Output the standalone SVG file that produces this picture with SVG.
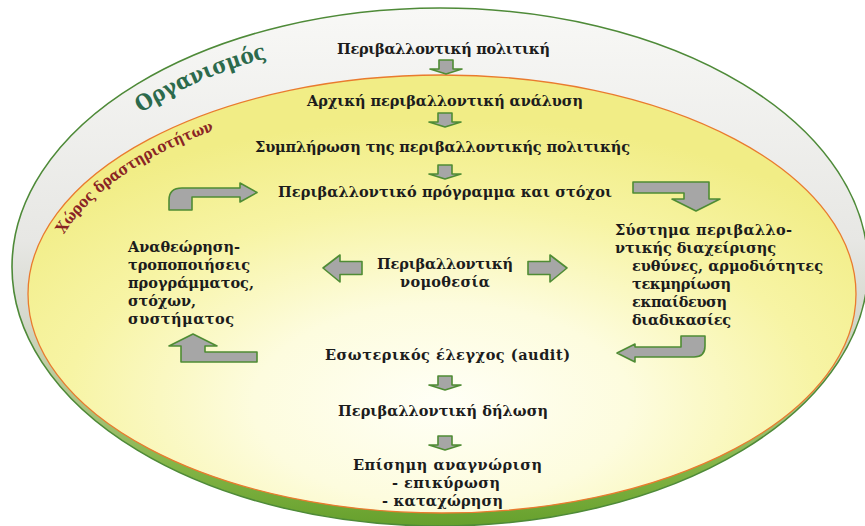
<svg xmlns="http://www.w3.org/2000/svg" xmlns:xlink="http://www.w3.org/1999/xlink" width="865" height="526" viewBox="0 0 865 526">
  <style>
    .t { font-family: "DejaVu Serif", "Liberation Serif", serif; font-weight: bold; font-size: 14.5px; fill: #1c1c1c; }
    .c { text-anchor: middle; }
    .arrow { fill: #a6a6a6; stroke: #4f8c34; stroke-width: 1.6; stroke-linejoin: round; }
  </style>
  <defs>
    <linearGradient id="outerFill" gradientUnits="userSpaceOnUse" x1="0" y1="8" x2="0" y2="526">
      <stop offset="0" stop-color="#f8f8f6"/>
      <stop offset="0.45" stop-color="#e7e7e4"/>
      <stop offset="0.6" stop-color="#d5d8cd"/>
      <stop offset="0.75" stop-color="#b0c68a"/>
      <stop offset="0.88" stop-color="#84b547"/>
      <stop offset="1" stop-color="#66a02c"/>
    </linearGradient>
    <radialGradient id="innerFill" cx="0.5" cy="0.75" r="0.65">
      <stop offset="0" stop-color="#fffff6"/>
      <stop offset="0.35" stop-color="#fdfcde"/>
      <stop offset="0.7" stop-color="#f7f4a4"/>
      <stop offset="1" stop-color="#f1ed86"/>
    </radialGradient>
    <path id="down" d="M-7,0 H7 V9 H16 L0,14 L-16,9 H-7 Z"/>
    <path id="orgPath" d="M40,267 A400,232 0 0,1 440,35"/>
    <path id="spacePath" d="M46,294 A396,200 0 0,1 442,94"/>
  </defs>

  <g id="organisation">
    <ellipse cx="440" cy="267" rx="428" ry="259" fill="url(#outerFill)" stroke="#4e8a38" stroke-width="1.6"/>
    <text font-family="DejaVu Serif, Liberation Serif, serif" font-weight="bold" font-size="22" fill="#2c6a4c"><textPath xlink:href="#orgPath" href="#orgPath" startOffset="192" textLength="138" lengthAdjust="spacingAndGlyphs">Οργανισμός</textPath></text>
  </g>

  <g id="activity-space">
    <ellipse cx="442" cy="294" rx="414" ry="219" fill="url(#innerFill)" stroke="#e97b2e" stroke-width="1.3"/>
    <text font-family="DejaVu Serif, Liberation Serif, serif" font-weight="bold" font-size="15.5" fill="#8a2424"><textPath xlink:href="#spacePath" href="#spacePath" startOffset="63" textLength="186" lengthAdjust="spacingAndGlyphs">Χώρος δραστηριοτήτων</textPath></text>
  </g>

  <g id="policy"><text class="t c" x="443.5" y="54" textLength="213">Περιβαλλοντική πολιτική</text></g>
  <g id="initial-analysis"><text class="t c" x="445" y="106" textLength="276">Αρχική περιβαλλοντική ανάλυση</text></g>
  <g id="policy-completion"><text class="t c" x="442.5" y="152" textLength="375">Συμπλήρωση της περιβαλλοντικής πολιτικής</text></g>
  <g id="programme"><text class="t c" x="445" y="197" textLength="334">Περιβαλλοντικό πρόγραμμα και στόχοι</text></g>

  <g id="management-system">
    <text class="t" x="615" y="235" textLength="177">Σύστημα περιβαλλο-</text>
    <text class="t" x="615" y="253" textLength="161">ντικής διαχείρισης</text>
    <text class="t" x="632" y="271" textLength="191">ευθύνες, αρμοδιότητες</text>
    <text class="t" x="632" y="289" textLength="99">τεκμηρίωση</text>
    <text class="t" x="632" y="307" textLength="95">εκπαίδευση</text>
    <text class="t" x="632" y="325" textLength="99">διαδικασίες</text>
  </g>

  <g id="legislation">
    <text class="t c" x="445" y="269" textLength="136">Περιβαλλοντική</text>
    <text class="t c" x="445" y="287" textLength="90">νομοθεσία</text>
  </g>

  <g id="review">
    <text class="t" x="128" y="252" textLength="112">Αναθεώρηση-</text>
    <text class="t" x="128" y="270" textLength="122">τροποποιήσεις</text>
    <text class="t" x="128" y="288" textLength="126">προγράμματος,</text>
    <text class="t" x="128" y="306" textLength="68">στόχων,</text>
    <text class="t" x="128" y="324" textLength="106">συστήματος</text>
  </g>

  <g id="audit"><text class="t c" x="447.5" y="360" textLength="245">Εσωτερικός έλεγχος (audit)</text></g>
  <g id="statement"><text class="t c" x="443" y="416" textLength="210">Περιβαλλοντική δήλωση</text></g>
  <g id="recognition">
    <text class="t c" x="447.5" y="470" textLength="189">Επίσημη αναγνώριση</text>
    <text class="t c" x="446" y="488" textLength="108">- επικύρωση</text>
    <text class="t c" x="442.5" y="506" textLength="121">- καταχώρηση</text>
  </g>

  <g id="connectors">
    <use href="#down" xlink:href="#down" class="arrow" x="446" y="60"/>
    <use href="#down" xlink:href="#down" class="arrow" x="445" y="113"/>
    <use href="#down" xlink:href="#down" class="arrow" x="445" y="165"/>
    <use href="#down" xlink:href="#down" class="arrow" x="445" y="376"/>
    <use href="#down" xlink:href="#down" class="arrow" x="445" y="436"/>
    <path class="arrow" d="M633,182 H709 V199 H720 L696,211 L672,199 H684 V193 H633 Z"/>
    <path class="arrow" d="M681,336 H705 V346 Q705,357 694,357 H635 V362 L617,353 L635,344 V347 H681 Z"/>
    <path class="arrow" d="M181,362 V346 H169 L193,334 L217,346 H205 V352 H257 V362 Z"/>
    <path class="arrow" d="M169,210 V200 Q169,188 182,188 H240 V183 L257,192.5 L240,202 V197 H192 V210 Z"/>
    <path class="arrow" d="M323,268 L340,255 V261.5 H362 V274.5 H340 V282 Z"/>
    <path class="arrow" d="M567,268 L550,255 V261.5 H528 V274.5 H550 V282 Z"/>
  </g>
</svg>
